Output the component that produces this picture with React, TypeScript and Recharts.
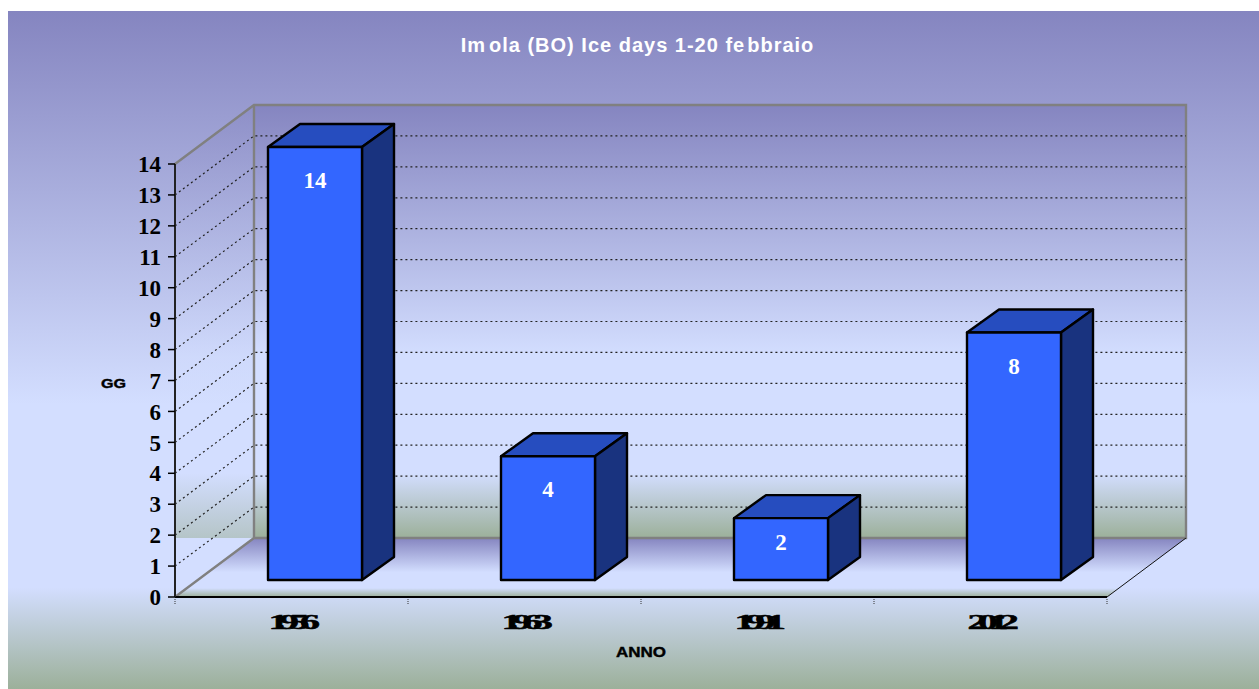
import { Bar, BarChart, LabelList, ReferenceLine, XAxis, YAxis } from "recharts";

const years = ["1956", "1963", "1991", "2012"];
const iceDays = [14, 4, 2, 8];
const yTicks = [0, 1, 2, 3, 4, 5, 6, 7, 8, 9, 10, 11, 12, 13, 14];
const gridTicks = [1, 2, 3, 4, 5, 6, 7, 8, 9, 10, 11, 12, 13];

const data = years.map((year, i) => ({ year, gg: iceDays[i] }));

const chartW = 1259;
const chartH = 689;
const left = 175;
const right = 1107;
const top = 164;
const bottom = 597;
const depthX = 79;
const depthY = 59;
const serif = "'Liberation Serif', 'Times New Roman', serif";
const sans = "'Liberation Sans', Arial, sans-serif";

// bars sit part way into the floor and have a shallower depth than the walls
const barShiftX = 23;
const barShiftY = 17;
const barDepthX = 32;
const barDepthY = 23;

const Box = (props: any) => {
  const x = props.x + barShiftX;
  const y = props.y - barShiftY;
  const w = props.width;
  const h = props.height;
  const line = { stroke: "#000", strokeWidth: 2.4, strokeLinejoin: "round" as const };
  return (
    <g>
      <polygon
        points={`${x},${y} ${x + barDepthX},${y - barDepthY} ${x + w + barDepthX},${y - barDepthY} ${x + w},${y}`}
        fill="#264dbf"
        {...line}
      />
      <polygon
        points={`${x + w},${y} ${x + w + barDepthX},${y - barDepthY} ${x + w + barDepthX},${y + h - barDepthY} ${x + w},${y + h}`}
        fill="#19337f"
        {...line}
      />
      <rect x={x} y={y} width={w} height={h} fill="#3366ff" {...line} />
    </g>
  );
};

// short bars get their number nearer the top edge
const BarValue = (props: any) => (
  <text
    x={props.x + props.width / 2 + barShiftX}
    y={props.y - barShiftY + (Math.abs(props.height) < 100 ? 32 : 41)}
    textAnchor="middle"
    fontFamily={serif}
    fontWeight="bold"
    fontSize={23}
    fill="#fff"
  >
    {props.value}
  </text>
);

const WallLine = (props: any) => {
  const { x1, y1, x2 } = props;
  return (
    <path
      d={`M${x1},${y1} L${x1 + depthX},${y1 - depthY} L${x2 + depthX},${y1 - depthY}`}
      fill="none"
      stroke="#222"
      strokeWidth={1.2}
      strokeDasharray="2 3"
    />
  );
};

const YearTick = (props: any) => {
  const { x, y, payload } = props;
  return (
    <text
      transform={`translate(${x - 2},${y}) scale(1.9,1)`}
      textAnchor="middle"
      dy={24}
      fontFamily={serif}
      fontWeight="bold"
      fontSize={21}
      letterSpacing={-5}
      fill="#000"
      stroke="#000"
      strokeWidth={0.5}
    >
      {payload.value}
    </text>
  );
};

const App = () => {
  const band = (right - left) / years.length;
  const edges = [0, 1, 2, 3, 4].map((i) => left + i * band);
  return (
    <div style={{ position: "absolute", left: 0, top: 0, width: chartW, height: chartH }}>
      <BarChart
        width={chartW}
        height={chartH}
        data={data}
        margin={{ left: left - 60, right: chartW - right, top, bottom: chartH - bottom - 40 }}
      >
        <defs>
          <linearGradient id="fade" x1="0" y1="0" x2="0" y2="1">
            <stop offset="0%" stopColor="#8585c0" />
            <stop offset="58%" stopColor="#d3deff" />
            <stop offset="85%" stopColor="#d3deff" />
            <stop offset="100%" stopColor="#9cb09a" />
          </linearGradient>
        </defs>
        <rect x={8} y={11} width={chartW - 8} height={chartH - 11} fill="url(#fade)" />
        <rect
          x={left + depthX}
          y={top - depthY}
          width={right - left}
          height={bottom - top}
          fill="url(#fade)"
        />
        <polygon
          points={`${left},${top} ${left + depthX},${top - depthY} ${left + depthX},${bottom - depthY} ${left},${bottom - depthY}`}
          fill="url(#fade)"
          fillOpacity={0.55}
        />
        <polygon
          points={`${left},${bottom} ${left + depthX},${bottom - depthY} ${right + depthX},${bottom - depthY} ${right},${bottom}`}
          fill="url(#fade)"
        />
        <path
          d={`M${left},${top} L${left + depthX},${top - depthY} L${right + depthX},${top - depthY} L${right + depthX},${bottom - depthY} L${left + depthX},${bottom - depthY} L${left + depthX},${top - depthY} M${left + depthX},${bottom - depthY} L${left},${bottom}`}
          fill="none"
          stroke="#808080"
          strokeWidth={2.4}
        />
        <line
          x1={right}
          y1={bottom}
          x2={right + depthX}
          y2={bottom - depthY}
          stroke="#111"
          strokeWidth={1}
        />
        {edges.map((ex) => (
          <line
            key={ex}
            x1={ex}
            y1={bottom + 2}
            x2={ex}
            y2={bottom + 7}
            stroke="#333"
            strokeWidth={1}
            strokeDasharray="1 1"
          />
        ))}
        {gridTicks.map((t) => (
          <ReferenceLine key={t} y={t} shape={<WallLine />} zIndex={100} />
        ))}
        <XAxis
          dataKey="year"
          height={40}
          interval={0}
          tickLine={false}
          axisLine={{ stroke: "#000", strokeWidth: 2 }}
          tick={<YearTick />}
        />
        <YAxis
          width={60}
          domain={[0, 14]}
          ticks={yTicks}
          interval={0}
          tickSize={7}
          tickMargin={7}
          tickLine={{ stroke: "#000", strokeWidth: 1.5 }}
          axisLine={{ stroke: "#222", strokeWidth: 2 }}
          tick={{ fill: "#000", fontFamily: serif, fontWeight: "bold", fontSize: 23 }}
        />
        <Bar dataKey="gg" barSize={94} isAnimationActive={false} shape={<Box />}>
          <LabelList dataKey="gg" content={<BarValue />} />
        </Bar>
        <text
          x={637.5}
          y={52}
          textAnchor="middle"
          fontFamily={sans}
          fontWeight="bold"
          fontSize={20}
          fill="#fff"
          letterSpacing={1}
        >
          Im<tspan dx={3}>ola (BO) Ice days 1-20 fe</tspan>
          <tspan dx={2}>bbraio</tspan>
        </text>
        <text
          x={113.5}
          y={388}
          textAnchor="middle"
          fontFamily={sans}
          fontWeight="bold"
          fontSize={13}
          textLength={25}
          lengthAdjust="spacingAndGlyphs"
          fill="#000"
          stroke="#000"
          strokeWidth={0.4}
        >
          GG
        </text>
        <text
          x={641}
          y={657}
          textAnchor="middle"
          fontFamily={sans}
          fontWeight="bold"
          fontSize={14}
          textLength={50}
          lengthAdjust="spacingAndGlyphs"
          fill="#000"
          stroke="#000"
          strokeWidth={0.4}
        >
          ANNO
        </text>
      </BarChart>
    </div>
  );
};

export default App;
